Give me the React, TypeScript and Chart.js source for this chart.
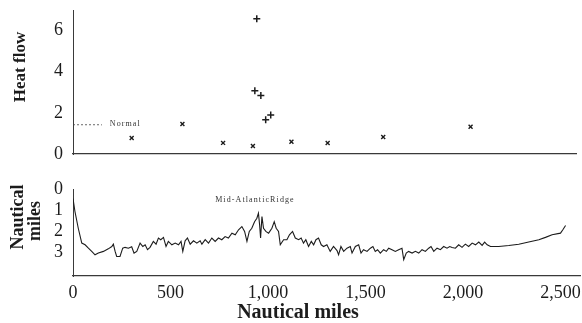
import React, { useEffect, useRef } from 'react';
import { Chart, registerables } from 'chart.js';

Chart.register(...registerables);

// ---------- data ----------
const xTickValues = [0, 500, 1000, 1500, 2000, 2500];
const heatTickValues = [0, 2, 4, 6];
const depthTickValues = [0, 1, 2, 3];

// heat-flow stations away from the ridge crest (x markers)
const heatLowMiles = [303, 565, 775, 929, 1128, 1315, 1602, 2053];
const heatLowValues = [0.78, 1.46, 0.54, 0.39, 0.6, 0.53, 0.83, 1.32];

// heat-flow stations on the ridge crest (+ markers)
const heatRidgeMiles = [949, 939, 970, 995, 1021];
const heatRidgeValues = [6.58, 3.07, 2.84, 1.66, 1.9];

// "Normal" reference level
const normalMiles = [0, 150];
const normalValue = 1.42;
const normalLabel = 'Normal';
const normalLabelAt = { miles: 190, value: 1.45 };

// depth profile
const depthMiles = [
  0, 10, 27, 45, 62, 79, 96, 113, 130, 156, 181, 199, 207, 216, 224, 241, 255, 267, 284, 301,
  313, 327, 344, 358, 370, 382, 395, 412, 426, 438, 450, 464, 477, 489, 507, 524, 541, 554, 563, 575,
  587, 601, 618, 635, 652, 661, 678, 695, 712, 729, 746, 763, 780, 797, 815, 832, 849, 866, 880, 892,
  904, 917, 931, 943, 951, 957, 962, 969, 977, 989, 1003, 1020, 1032, 1042, 1054, 1063, 1080, 1097, 1110, 1126,
  1140, 1157, 1170, 1182, 1194, 1208, 1222, 1234, 1246, 1259, 1273, 1285, 1302, 1319, 1336, 1354, 1362, 1374, 1388, 1405,
  1422, 1431, 1448, 1465, 1477, 1490, 1508, 1525, 1538, 1550, 1562, 1576, 1593, 1607, 1619, 1636, 1653, 1670, 1687, 1696,
  1709, 1721, 1739, 1756, 1773, 1790, 1807, 1824, 1836, 1850, 1867, 1884, 1901, 1918, 1932, 1944, 1961, 1978, 1995, 2012,
  2029, 2047, 2064, 2081, 2098, 2111, 2124, 2141, 2183, 2235, 2286, 2337, 2389, 2423, 2457, 2500, 2512, 2526,
];
const depthValues = [
  0.45, 1.06, 1.85, 2.55, 2.63, 2.79, 2.94, 3.1, 3.02, 2.94, 2.82, 2.71, 2.6, 2.94, 3.18, 3.18, 2.79, 2.75, 2.79, 2.72,
  3.02, 2.94, 2.55, 2.71, 2.63, 2.86, 2.75, 2.47, 2.6, 2.31, 2.39, 2.28, 2.71, 2.47, 2.63, 2.55, 2.63, 2.47, 2.94, 2.44,
  2.31, 2.6, 2.44, 2.55, 2.44, 2.6, 2.39, 2.55, 2.31, 2.47, 2.31, 2.39, 2.24, 2.31, 2.08, 2.16, 1.92, 1.77, 2.0, 2.47,
  2.0, 1.85, 1.54, 1.38, 1.14, 1.69, 2.31, 1.3, 1.85, 2.0, 2.08, 1.85, 1.54, 1.85, 2.0, 2.63, 2.39, 2.39, 2.16, 2.0,
  2.31, 2.39, 2.31, 2.55, 2.39, 2.71, 2.47, 2.63, 2.39, 2.31, 2.63, 2.71, 2.63, 2.94, 2.71, 2.9, 3.1, 2.71, 2.94, 2.79,
  2.71, 3.02, 2.71, 2.63, 3.02, 2.86, 2.94, 2.79, 2.71, 2.94, 2.86, 3.02, 2.86, 2.94, 2.79, 2.86, 2.94, 2.86, 2.79, 3.33,
  3.02, 2.94, 3.02, 2.94, 3.02, 2.86, 2.94, 2.79, 2.71, 2.94, 2.79, 2.86, 2.71, 2.79, 2.71, 2.76, 2.79, 2.63, 2.75, 2.6,
  2.71, 2.55, 2.63, 2.5, 2.66, 2.5, 2.63, 2.71, 2.71, 2.66, 2.6, 2.5, 2.39, 2.28, 2.16, 2.08, 1.92, 1.72,
];
const ridgeLabel = 'Mid-AtlanticRidge';
const ridgeLabelAt = { miles: 729, value: 0.5 };

const heatTitle = 'Heat flow';
const depthTitle = ['Nautical', 'miles'];
const xTitle = 'Nautical miles';

// ---------- styling ----------
const INK = '#1c1c1c';
const AXIS = '#3a3a3a';
const SERIF = '"Liberation Serif", "Times New Roman", serif';
const W = 582;
const TOP_H = 160;
const BOT_H = 163;
const AXIS_W = 73;

const tickFont = { family: SERIF, size: 18 };

function noPad(s: any) {
  s.paddingTop = 0;
  s.paddingBottom = 0;
  s.paddingLeft = 0;
  s.paddingRight = 0;
}

function drawRotated(ctx: CanvasRenderingContext2D, text: string, x: number, y: number, size: number) {
  ctx.save();
  ctx.translate(x, y);
  ctx.rotate(-Math.PI / 2);
  ctx.font = `bold ${size}px ${SERIF}`;
  ctx.fillStyle = INK;
  ctx.textAlign = 'center';
  ctx.textBaseline = 'middle';
  ctx.fillText(text, 0, 0);
  ctx.restore();
}

function smallText(ctx: CanvasRenderingContext2D, text: string, x: number, y: number) {
  ctx.save();
  ctx.font = `8px ${SERIF}`;
  (ctx as any).letterSpacing = '1.1px';
  ctx.fillStyle = '#333';
  ctx.textAlign = 'left';
  ctx.textBaseline = 'middle';
  ctx.fillText(text, x, y);
  ctx.restore();
}

export default function App() {
  const topRef = useRef<HTMLCanvasElement | null>(null);
  const botRef = useRef<HTMLCanvasElement | null>(null);

  useEffect(() => {
    if (!topRef.current || !botRef.current) return;

    const topPlugin = {
      id: 'topDecor',
      afterDraw(chart: any) {
        const { ctx, scales } = chart;
        drawRotated(ctx, heatTitle, 21, 67, 17);
        smallText(ctx, normalLabel, scales.x.getPixelForValue(normalLabelAt.miles), scales.y.getPixelForValue(normalLabelAt.value));
      },
    };

    const botPlugin = {
      id: 'botDecor',
      afterDraw(chart: any) {
        const { ctx, scales } = chart;
        drawRotated(ctx, depthTitle[0], 18, 217 - TOP_H, 18);
        drawRotated(ctx, depthTitle[1], 35, 221 - TOP_H, 18);
        ctx.save();
        ctx.font = `bold 20px ${SERIF}`;
        ctx.fillStyle = INK;
        ctx.textAlign = 'center';
        ctx.textBaseline = 'middle';
        ctx.fillText(xTitle, 298, 313 - TOP_H);
        ctx.restore();
        smallText(ctx, ridgeLabel, scales.x.getPixelForValue(ridgeLabelAt.miles), scales.y.getPixelForValue(ridgeLabelAt.value));
      },
    };

    const top = new Chart(topRef.current, {
      type: 'scatter',
      data: {
        datasets: [
          {
            data: heatLowMiles.map((m, i) => ({ x: m, y: heatLowValues[i] })),
            pointStyle: 'crossRot',
            pointRadius: 2.8,
            borderColor: INK,
            backgroundColor: INK,
            pointBorderWidth: 1.4,
          },
          {
            data: heatRidgeMiles.map((m, i) => ({ x: m, y: heatRidgeValues[i] })),
            pointStyle: 'cross',
            pointRadius: 3.5,
            borderColor: INK,
            backgroundColor: INK,
            pointBorderWidth: 1.5,
          },
          {
            data: normalMiles.map((m) => ({ x: m, y: normalValue })),
            showLine: true,
            borderDash: [2, 2],
            borderWidth: 0.8,
            borderColor: '#444',
            pointRadius: 0,
          },
        ],
      },
      options: {
        responsive: false,
        animation: false,
        events: [],
        layout: { padding: { top: 10, right: 2, left: 0, bottom: 0 } },
        plugins: { legend: { display: false }, tooltip: { enabled: false } },
        scales: {
          x: {
            type: 'linear',
            min: 0,
            max: 2600,
            ticks: { display: false },
            grid: { display: false, drawTicks: false },
            border: { display: true, color: AXIS, width: 1.3 },
            afterFit: (s: any) => { s.height = 6; noPad(s); },
          },
          y: {
            type: 'linear',
            min: 0,
            max: 7,
            afterBuildTicks: (s: any) => { s.ticks = heatTickValues.map((v) => ({ value: v })); },
            afterFit: (s: any) => { s.width = AXIS_W; noPad(s); },
            ticks: { font: tickFont, color: INK, padding: 10 },
            grid: { display: false, drawTicks: false },
            border: { display: true, color: AXIS, width: 1 },
          },
        },
      },
      plugins: [topPlugin],
    } as any);

    const bot = new Chart(botRef.current, {
      type: 'scatter',
      data: {
        datasets: [
          {
            data: depthMiles.map((m, i) => ({ x: m, y: depthValues[i] })),
            showLine: true,
            borderColor: INK,
            borderWidth: 1.1,
            pointRadius: 0,
            tension: 0,
          },
        ],
      },
      options: {
        responsive: false,
        animation: false,
        events: [],
        layout: { padding: { top: 29, right: 2, left: 0, bottom: 0 } },
        plugins: { legend: { display: false }, tooltip: { enabled: false } },
        scales: {
          x: {
            type: 'linear',
            min: 0,
            max: 2600,
            afterBuildTicks: (s: any) => { s.ticks = xTickValues.map((v) => ({ value: v })); },
            afterFit: (s: any) => { s.height = 47; noPad(s); },
            ticks: { font: tickFont, color: INK, padding: 6, maxRotation: 0, autoSkip: false },
            grid: { display: false, drawTicks: false },
            border: { display: true, color: AXIS, width: 1.3 },
          },
          y: {
            type: 'linear',
            reverse: true,
            min: 0,
            max: 4.1,
            afterBuildTicks: (s: any) => { s.ticks = depthTickValues.map((v) => ({ value: v })); },
            afterFit: (s: any) => { s.width = AXIS_W; noPad(s); },
            ticks: { font: tickFont, color: INK, padding: 10 },
            grid: { display: false, drawTicks: false },
            border: { display: true, color: AXIS, width: 1 },
          },
        },
      },
      plugins: [botPlugin],
    } as any);

    return () => {
      top.destroy();
      bot.destroy();
    };
  }, []);

  return (
    <div style={{ position: 'fixed', left: 0, top: 0, width: W, height: TOP_H + BOT_H, background: '#fff' }}>
      <canvas ref={topRef} width={W} height={TOP_H} style={{ display: 'block', width: W, height: TOP_H }} />
      <canvas ref={botRef} width={W} height={BOT_H} style={{ display: 'block', width: W, height: BOT_H }} />
    </div>
  );
}
